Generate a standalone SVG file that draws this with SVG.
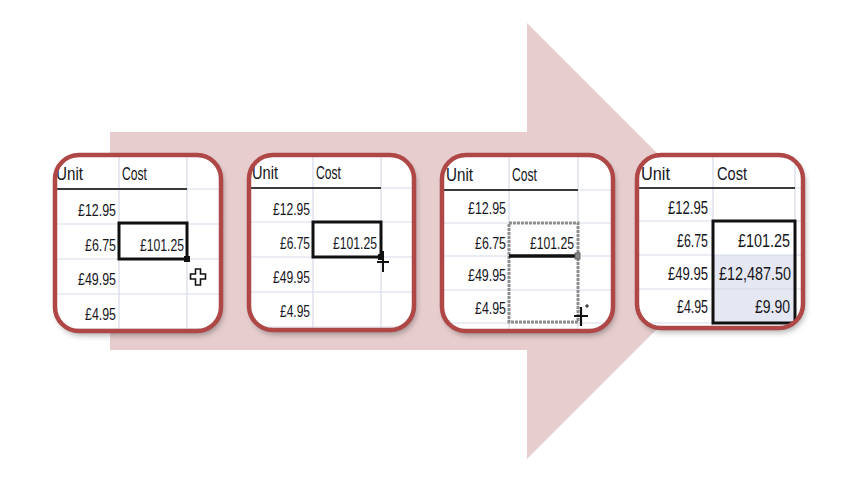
<svg xmlns="http://www.w3.org/2000/svg" width="851" height="495" viewBox="0 0 851 495">
<style>
.t{font-family:"Liberation Sans",Arial,sans-serif;font-size:16.5px;fill:#15151c}
.h{font-family:"Liberation Sans",Arial,sans-serif;font-size:19px;fill:#15151c}
.t4{font-family:"Liberation Sans",Arial,sans-serif;font-size:17.5px;fill:#15151c}
.g{stroke:#d6dbe8;stroke-width:1.2;fill:none}
.hd{stroke:#3a3a3a;stroke-width:2;fill:none}
.frame{fill:none;stroke:#b04747;stroke-width:4.5}
.bg{fill:#ffffff;filter:url(#sh)}
.sel{fill:none;stroke:#111;stroke-width:3}
</style>
<defs>
<filter id="sh" x="-20%" y="-20%" width="140%" height="140%">
<feDropShadow dx="2" dy="4" stdDeviation="3" flood-color="#000" flood-opacity="0.35"/>
</filter>
<clipPath id="c1"><rect x="55" y="155" width="166" height="176" rx="24"/></clipPath>
<clipPath id="c2"><rect x="249" y="155" width="165" height="175" rx="24"/></clipPath>
<clipPath id="c3"><rect x="442" y="155" width="171" height="176" rx="24"/></clipPath>
<clipPath id="c4"><rect x="637" y="155" width="166" height="173" rx="24"/></clipPath>
</defs>
<rect width="851" height="495" fill="#ffffff"/>
<g id="arrow">
<polygon points="110,132 527,132 527,23 745,241 527,459 527,350 110,350" fill="#e7cdce"/>
</g>
<g id="connectors"></g>

<g id="panel1">
<rect class="bg" x="55" y="155" width="166" height="176" rx="24"/>
<g clip-path="url(#c1)">
<line class="g" x1="119" y1="150" x2="119" y2="335"/>
<line class="g" x1="187" y1="150" x2="187" y2="335"/>
<line class="g" x1="187" y1="189" x2="225" y2="189"/>
<line class="g" x1="50" y1="224" x2="225" y2="224"/>
<line class="g" x1="50" y1="259" x2="225" y2="259"/>
<line class="g" x1="50" y1="294" x2="225" y2="294"/>
<line class="g" x1="50" y1="329" x2="225" y2="329"/>
<line class="hd" x1="50" y1="189" x2="187" y2="189"/>
<text class="h" x="56" y="180" textLength="27" lengthAdjust="spacingAndGlyphs">Unit</text>
<text class="h" x="122" y="180" textLength="25" lengthAdjust="spacingAndGlyphs">Cost</text>
<text class="t" x="116" y="216" text-anchor="end" textLength="38" lengthAdjust="spacingAndGlyphs">£12.95</text>
<text class="t" x="116" y="251" text-anchor="end" textLength="31" lengthAdjust="spacingAndGlyphs">£6.75</text>
<text class="t" x="116" y="285" text-anchor="end" textLength="38" lengthAdjust="spacingAndGlyphs">£49.95</text>
<text class="t" x="116" y="320" text-anchor="end" textLength="31" lengthAdjust="spacingAndGlyphs">£4.95</text>
<text class="t" x="184" y="251" text-anchor="end" textLength="44" lengthAdjust="spacingAndGlyphs">£101.25</text>
<rect class="sel" x="119" y="223" width="68" height="36"/>
<rect x="184" y="256" width="6" height="6" fill="#111"/>
<path d="M195.5,269 h5 v5 h5 v5 h-5 v6 h-5 v-6 h-5 v-5 h5 z" fill="#fff" stroke="#111" stroke-width="1.6"/>
</g>
<rect class="frame" x="55" y="155" width="166" height="176" rx="24"/>
</g>

<g id="panel2">
<rect class="bg" x="249" y="155" width="165" height="175" rx="24"/>
<g clip-path="url(#c2)">
<line class="g" x1="313" y1="150" x2="313" y2="335"/>
<line class="g" x1="381" y1="150" x2="381" y2="335"/>
<line class="g" x1="381" y1="188" x2="420" y2="188"/>
<line class="g" x1="245" y1="222" x2="420" y2="222"/>
<line class="g" x1="245" y1="257" x2="420" y2="257"/>
<line class="g" x1="245" y1="292" x2="420" y2="292"/>
<line class="g" x1="245" y1="327" x2="420" y2="327"/>
<line class="hd" x1="245" y1="188" x2="381" y2="188"/>
<text class="h" x="252" y="179" textLength="26" lengthAdjust="spacingAndGlyphs">Unit</text>
<text class="h" x="316" y="179" textLength="25" lengthAdjust="spacingAndGlyphs">Cost</text>
<text class="t" x="310" y="215" text-anchor="end" textLength="37" lengthAdjust="spacingAndGlyphs">£12.95</text>
<text class="t" x="310" y="249" text-anchor="end" textLength="30" lengthAdjust="spacingAndGlyphs">£6.75</text>
<text class="t" x="310" y="283" text-anchor="end" textLength="37" lengthAdjust="spacingAndGlyphs">£49.95</text>
<text class="t" x="310" y="317" text-anchor="end" textLength="30" lengthAdjust="spacingAndGlyphs">£4.95</text>
<text class="t" x="377" y="249" text-anchor="end" textLength="44" lengthAdjust="spacingAndGlyphs">£101.25</text>
<rect class="sel" x="313" y="222" width="68" height="35"/>
<rect x="378" y="254" width="6" height="6" fill="#111"/>
<line x1="383" y1="251" x2="383" y2="272" stroke="#111" stroke-width="2"/>
<line x1="377" y1="262" x2="389" y2="262" stroke="#111" stroke-width="2"/>
</g>
<rect class="frame" x="249" y="155" width="165" height="175" rx="24"/>
</g>

<g id="panel3">
<rect class="bg" x="442" y="155" width="171" height="176" rx="24"/>
<g clip-path="url(#c3)">
<line class="g" x1="509" y1="150" x2="509" y2="335"/>
<line class="g" x1="578" y1="150" x2="578" y2="335"/>
<line class="g" x1="578" y1="190" x2="620" y2="190"/>
<line class="g" x1="438" y1="223" x2="620" y2="223"/>
<line class="g" x1="438" y1="256" x2="620" y2="256"/>
<line class="g" x1="438" y1="290" x2="620" y2="290"/>
<line class="g" x1="438" y1="323" x2="620" y2="323"/>
<line class="hd" x1="438" y1="190" x2="578" y2="190"/>
<text class="h" x="446" y="181" textLength="27" lengthAdjust="spacingAndGlyphs">Unit</text>
<text class="h" x="512" y="181" textLength="25" lengthAdjust="spacingAndGlyphs">Cost</text>
<text class="t" x="506" y="214" text-anchor="end" textLength="38" lengthAdjust="spacingAndGlyphs">£12.95</text>
<text class="t" x="506" y="249" text-anchor="end" textLength="31" lengthAdjust="spacingAndGlyphs">£6.75</text>
<text class="t" x="506" y="281" text-anchor="end" textLength="38" lengthAdjust="spacingAndGlyphs">£49.95</text>
<text class="t" x="506" y="314" text-anchor="end" textLength="31" lengthAdjust="spacingAndGlyphs">£4.95</text>
<text class="t" x="574" y="249" text-anchor="end" textLength="44" lengthAdjust="spacingAndGlyphs">£101.25</text>
<rect x="509" y="223" width="69" height="99" fill="none" stroke="#8e8e8e" stroke-width="3" stroke-dasharray="3 1"/>
<line x1="509" y1="256" x2="576" y2="256" stroke="#111" stroke-width="3.5"/>
<rect x="575" y="253" width="5" height="6" fill="#888" stroke="#555" stroke-width="0.8"/>
<line x1="581" y1="307" x2="581" y2="326" stroke="#111" stroke-width="2.2"/>
<line x1="574" y1="316" x2="588" y2="316" stroke="#111" stroke-width="2.2"/>
<line x1="585" y1="306" x2="589" y2="306" stroke="#111" stroke-width="1"/>
<line x1="587" y1="304" x2="587" y2="308" stroke="#111" stroke-width="1"/>
</g>
<rect class="frame" x="442" y="155" width="171" height="176" rx="24"/>
</g>

<g id="panel4">
<rect class="bg" x="637" y="155" width="166" height="173" rx="24"/>
<g clip-path="url(#c4)">
<rect x="713" y="255" width="82" height="68" fill="#e5e7f3"/>
<line class="g" x1="713" y1="150" x2="713" y2="335"/>
<line class="g" x1="795" y1="150" x2="795" y2="335"/>
<line class="g" x1="795" y1="188" x2="810" y2="188"/>
<line class="g" x1="632" y1="221" x2="810" y2="221"/>
<line class="g" x1="632" y1="255" x2="810" y2="255"/>
<line class="g" x1="632" y1="289" x2="810" y2="289"/>
<line class="g" x1="632" y1="323" x2="810" y2="323"/>
<line class="hd" x1="632" y1="188" x2="795" y2="188"/>
<text class="h" x="641" y="180" textLength="29" lengthAdjust="spacingAndGlyphs">Unit</text>
<text class="h" x="717" y="180" textLength="30" lengthAdjust="spacingAndGlyphs">Cost</text>
<text class="t4" x="708" y="214" text-anchor="end" textLength="40" lengthAdjust="spacingAndGlyphs">£12.95</text>
<text class="t4" x="708" y="247" text-anchor="end" textLength="31" lengthAdjust="spacingAndGlyphs">£6.75</text>
<text class="t4" x="708" y="280" text-anchor="end" textLength="40" lengthAdjust="spacingAndGlyphs">£49.95</text>
<text class="t4" x="708" y="313" text-anchor="end" textLength="31" lengthAdjust="spacingAndGlyphs">£4.95</text>
<text class="t4" x="790" y="247" text-anchor="end" textLength="52" lengthAdjust="spacingAndGlyphs">£101.25</text>
<text class="t4" x="791" y="280" text-anchor="end" textLength="72" lengthAdjust="spacingAndGlyphs">£12,487.50</text>
<text class="t4" x="790" y="313" text-anchor="end" textLength="35" lengthAdjust="spacingAndGlyphs">£9.90</text>
<rect class="sel" x="713" y="221" width="82" height="102"/>
</g>
<rect class="frame" x="637" y="155" width="166" height="173" rx="24"/>
</g>
</svg>
